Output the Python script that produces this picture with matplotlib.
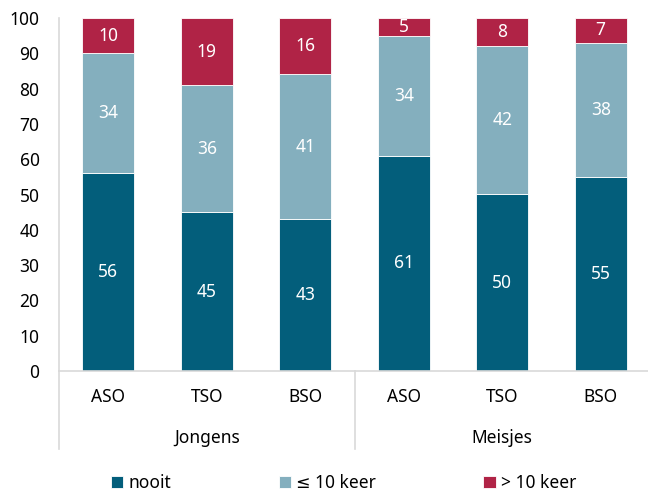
import matplotlib.pyplot as plt
from matplotlib.lines import Line2D

plt.rcParams['font.family'] = ['Noto Sans', 'DejaVu Sans']

groups = ['Jongens', 'Meisjes']
categories = ['ASO', 'TSO', 'BSO', 'ASO', 'TSO', 'BSO']
nooit = [56, 45, 43, 61, 50, 55]
weinig = [34, 36, 41, 34, 42, 38]
vaak = [10, 19, 16, 5, 8, 7]

series = [('nooit', nooit, '#035E7B', 'white'),
          ('≤ 10 keer', weinig, '#84AFBE', 'white'),
          ('> 10 keer', vaak, '#B02346', 'white')]

fig = plt.figure(figsize=(6.48, 4.94), dpi=100)
ax = fig.add_axes([59 / 648, 123 / 494, 591 / 648, 353 / 494])

x = list(range(len(categories)))
bottom = [0] * len(categories)
for name, vals, color, tcolor in series:
    bars = ax.bar(x, vals, 0.53, bottom=bottom, color=color, label=name,
                  edgecolor='white', linewidth=0.6)
    for b, v, base in zip(bars, vals, bottom):
        ax.text(b.get_x() + b.get_width() / 2, base + v / 2, str(v),
                ha='center', va='center', color=tcolor, fontsize=12.5)
    bottom = [a + b for a, b in zip(bottom, vals)]

ax.set_xlim(-0.5, len(categories) - 0.5)
ax.set_ylim(0, 100)
ax.set_yticks(range(0, 101, 10))
ax.tick_params(axis='y', length=0, labelsize=12.5, pad=14)
ax.tick_params(axis='x', length=0, labelsize=12.5, pad=12)
ax.set_xticks(x)
ax.set_xticklabels(categories)
for s in ['top', 'right']:
    ax.spines[s].set_visible(False)
ax.spines['left'].set_color('#D9D9D9')
ax.spines['bottom'].set_color('#D9D9D9')
ax.spines['left'].set_linewidth(1.2)
ax.spines['bottom'].set_linewidth(1.2)

# group separators and labels below the axis
trans = ax.get_xaxis_transform()
for xs in [-0.5, 2.5, 5.5]:
    ax.add_line(Line2D([xs, xs], [0, -0.22], transform=trans, color='#D9D9D9',
                       linewidth=1.2, clip_on=False))
for i, g in enumerate(groups):
    ax.text(1 + 3 * i, -0.19, g, transform=trans, ha='center', va='center',
            fontsize=12.5)

fig.legend(loc='center', bbox_to_anchor=(0.53, 0.022), ncol=3, frameon=False,
           fontsize=12.5, handlelength=0.7, handleheight=0.7, handletextpad=0.3,
           columnspacing=6.2, borderpad=0)

fig.savefig('out.png', dpi=100)
